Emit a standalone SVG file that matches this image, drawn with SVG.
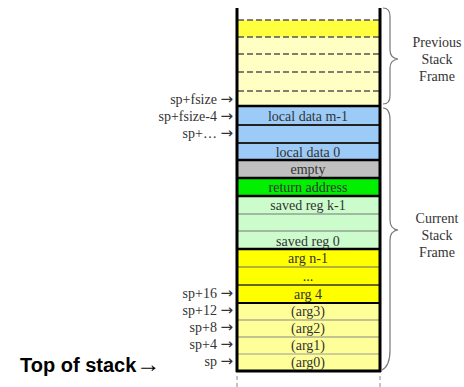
<svg xmlns="http://www.w3.org/2000/svg" width="464" height="387" viewBox="0 0 464 387">
<style>
.t{font-family:"Liberation Serif","Times New Roman",serif;font-size:14px;fill:#333;}
.c{text-anchor:middle;}
.l{text-anchor:end;}
.ar{font-family:"DejaVu Sans",sans-serif;font-size:15px;}
.sep{stroke:#555;stroke-width:1.2;}
.grp{stroke:#000;stroke-width:2.5;}
.dash{stroke:#555;stroke-width:1.5;stroke-dasharray:6 3;}
.brace{fill:none;stroke:#777;stroke-width:1.2;}
</style>
<rect width="464" height="387" fill="#fff"/>
<g id="previous-frame">
<rect x="237" y="20" width="143" height="17" fill="#ffff40"/>
<rect x="237" y="37" width="143" height="69" fill="#ffffc4"/>
<line class="dash" x1="238" y1="20" x2="379" y2="20"/>
<line class="dash" x1="238" y1="37" x2="379" y2="37"/>
<line class="dash" x1="238" y1="54" x2="379" y2="54"/>
<line class="dash" x1="238" y1="72" x2="379" y2="72"/>
<line class="dash" x1="238" y1="91" x2="379" y2="91"/>
</g>
<g id="cells">
<rect x="237" y="107" width="143" height="53" fill="#9ccbf7"/>
<rect x="237" y="160" width="143" height="18" fill="#c0c0c0"/>
<rect x="237" y="178" width="143" height="18" fill="#00f000"/>
<rect x="237" y="196" width="143" height="53" fill="#ccfccc"/>
<rect x="237" y="249" width="143" height="54" fill="#ffff00"/>
<rect x="237" y="303" width="143" height="68" fill="#ffff99"/>
<line class="sep" x1="237" y1="125" x2="380" y2="125" style="stroke:#222;stroke-width:1.8"/>
<line class="sep" x1="237" y1="143" x2="380" y2="143" style="stroke:#222;stroke-width:1.8"/>
<line class="sep" x1="237" y1="214" x2="380" y2="214" style="stroke:#777"/>
<line class="sep" x1="237" y1="231" x2="380" y2="231" style="stroke:#777"/>
<line class="sep" x1="237" y1="267" x2="380" y2="267" style="stroke:#666"/>
<line class="sep" x1="237" y1="285" x2="380" y2="285" style="stroke:#333;stroke-width:1.6"/>
<line class="sep" x1="237" y1="320" x2="380" y2="320" style="stroke:#888"/>
<line class="sep" x1="237" y1="337" x2="380" y2="337" style="stroke:#888"/>
<line class="sep" x1="237" y1="354" x2="380" y2="354" style="stroke:#999"/>
<line class="grp" x1="237" y1="106" x2="380" y2="106"/>
<line class="grp" x1="237" y1="160" x2="380" y2="160"/>
<line class="grp" x1="237" y1="178" x2="380" y2="178"/>
<line class="grp" x1="237" y1="196" x2="380" y2="196"/>
<line class="grp" x1="237" y1="249" x2="380" y2="249"/>
<line class="grp" x1="237" y1="303" x2="380" y2="303" style="stroke-width:2"/>
<line class="grp" x1="236" y1="371" x2="381" y2="371" style="stroke-width:3"/>
<text class="t c" x="308" y="121">local data m-1</text>
<text class="t c" x="308" y="157">local data 0</text>
<text class="t c" x="308" y="174">empty</text>
<text class="t c" x="308" y="192">return address</text>
<text class="t c" x="308" y="210">saved reg k-1</text>
<text class="t c" x="308" y="246">saved reg 0</text>
<text class="t c" x="308" y="263">arg n-1</text>
<text class="t c" x="308" y="281">...</text>
<text class="t c" x="308" y="299">arg 4</text>
<text class="t c" x="308" y="316">(arg3)</text>
<text class="t c" x="308" y="333">(arg2)</text>
<text class="t c" x="308" y="350">(arg1)</text>
<text class="t c" x="308" y="367">(arg0)</text>
</g>
<g id="stack-walls">
<line x1="237" y1="8" x2="237" y2="372" stroke="#000" stroke-width="3"/>
<line x1="380" y1="8" x2="380" y2="372" stroke="#000" stroke-width="3"/>
<line x1="237" y1="376" x2="237" y2="387" stroke="#888" stroke-width="1" stroke-dasharray="4 3"/>
<line x1="380" y1="376" x2="380" y2="387" stroke="#888" stroke-width="1" stroke-dasharray="4 3"/>
</g>
<g id="offset-labels">
<text class="t l" x="233" y="104">sp+fsize <tspan class="ar">→</tspan></text>
<text class="t l" x="233" y="121">sp+fsize-4 <tspan class="ar">→</tspan></text>
<text class="t l" x="233" y="138">sp+… <tspan class="ar">→</tspan></text>
<text class="t l" x="233" y="298">sp+16 <tspan class="ar">→</tspan></text>
<text class="t l" x="233" y="315">sp+12 <tspan class="ar">→</tspan></text>
<text class="t l" x="233" y="332">sp+8 <tspan class="ar">→</tspan></text>
<text class="t l" x="233" y="349">sp+4 <tspan class="ar">→</tspan></text>
<text class="t l" x="233" y="366">sp <tspan class="ar">→</tspan></text>
</g>
<g id="top-of-stack">
<text x="20" y="372" style="font-family:'Liberation Sans',Arial,sans-serif;font-size:20px;font-weight:bold;fill:#000">Top of stack<tspan style="font-weight:normal;font-size:24px">→</tspan></text>
</g>
<g id="connectors">
<path class="brace" d="M383,8 Q390,8 390,16 L390,50 Q390,58 398,59 Q390,60 390,68 L390,96 Q390,104 383,104"/>
<path class="brace" d="M383,108 Q390,108 390,120 L390,220 Q390,229 398,230 Q390,231 390,240 L390,350 Q390,366 382,370"/>
</g>
<g id="frame-labels">
<text class="t c" x="437" y="47">Previous</text>
<text class="t c" x="437" y="64">Stack</text>
<text class="t c" x="437" y="81">Frame</text>
<text class="t c" x="437" y="223">Current</text>
<text class="t c" x="437" y="240">Stack</text>
<text class="t c" x="437" y="257">Frame</text>
</g>
</svg>
